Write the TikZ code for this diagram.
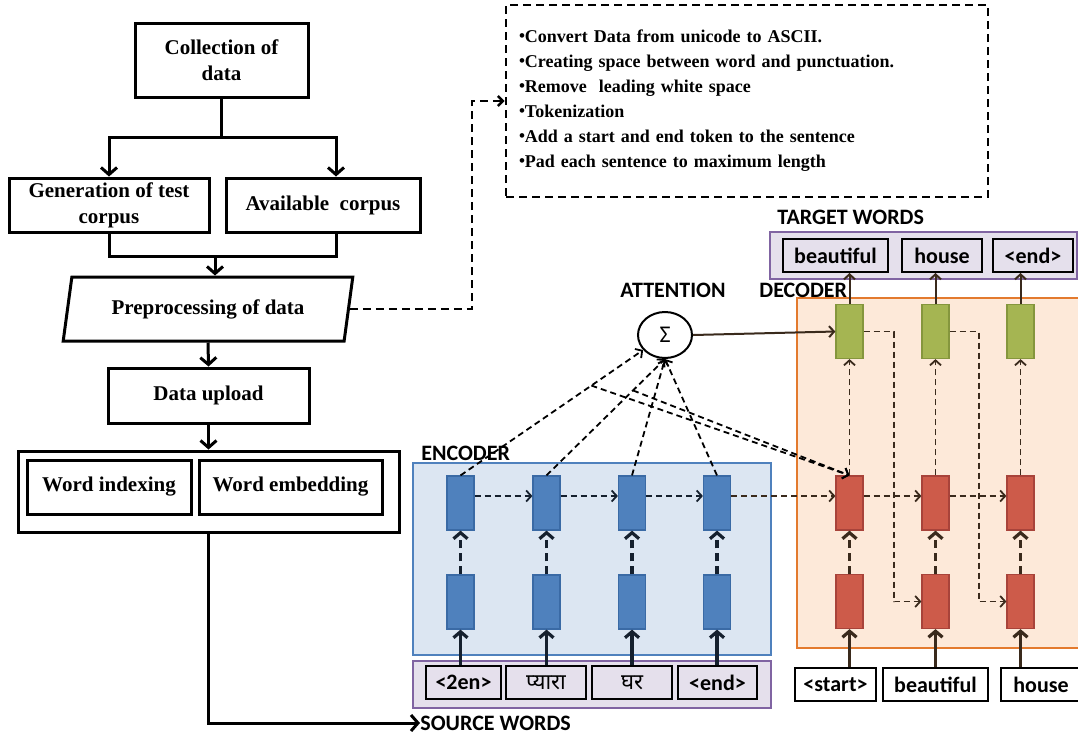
\documentclass[tikz,border=0pt]{standalone}
\usepackage{fontspec}
\usetikzlibrary{arrows.meta,calc,shapes.geometric}
\newfontfamily\timesfont{Liberation Serif}
\newfontfamily\calfont{Carlito}
\newfontfamily\hindifont[Script=Devanagari]{Noto Sans}
\definecolor{encfill}{HTML}{DCE6F2}
\definecolor{encborder}{HTML}{4F81BD}
\definecolor{decfill}{HTML}{FDE9D9}
\definecolor{decborder}{HTML}{E37A2E}
\definecolor{wordsfill}{HTML}{E5E0EC}
\definecolor{wordsborder}{HTML}{8064A2}
\definecolor{cellblue}{HTML}{4F81BD}
\definecolor{cellblueborder}{HTML}{3A6AA5}
\definecolor{cellred}{HTML}{CD5B4A}
\definecolor{cellredborder}{HTML}{A8433A}
\definecolor{cellgreen}{HTML}{A5B552}
\definecolor{cellgreenborder}{HTML}{85963D}
\definecolor{encline}{HTML}{15202E}
\definecolor{decline}{HTML}{3A2A1C}
\newcommand\stepdot{\raisebox{0.15ex}{\fontsize{8.5}{8.5}\selectfont\textbullet}}

\tikzset{
  flowbox/.style={draw, line width=1.5pt, align=center, inner sep=1pt,
    font=\timesfont\bfseries\fontsize{10.5}{13}\selectfont},
  flowline/.style={line width=1.5pt},
  flowarrow/.style={line width=1.5pt, -{Straight Barb[length=3.5pt,width=8pt]}},
  stepsbox/.style={draw, line width=1.3pt, dash pattern=on 4pt off 2.5pt, align=left,
    text width=228pt, inner xsep=6.5pt, minimum height=96pt,
    font=\timesfont\bfseries\fontsize{9}{12.5}\selectfont},
  stepsarrow/.style={line width=1.3pt, dash pattern=on 4pt off 2.5pt,
    -{Straight Barb[length=2.5pt,width=5pt]}},
  nmtlabel/.style={inner sep=0pt, font=\calfont\bfseries\fontsize{11}{13}\selectfont},
  encbox/.style={draw=encborder, fill=encfill, line width=0.8pt},
  decbox/.style={draw=decborder, fill=decfill, line width=0.8pt},
  wordsbox/.style={draw=wordsborder, fill=wordsfill, line width=0.8pt},
  tokbox/.style={draw, line width=1pt, minimum height=16.5pt, inner sep=0pt,
    font=\calfont\bfseries\fontsize{11}{13}\selectfont},
  cell/.style={minimum width=13.5pt, minimum height=27pt, inner sep=0pt, line width=0.6pt},
  bluecell/.style={cell, fill=cellblue, draw=cellblueborder},
  redcell/.style={cell, fill=cellred, draw=cellredborder},
  greencell/.style={cell, fill=cellgreen, draw=cellgreenborder},
  attnode/.style={draw, ellipse, line width=1pt, minimum width=27pt, minimum height=23pt,
    inner sep=0pt, fill=white, font=\calfont\fontsize{12}{14}\selectfont},
  attline/.style={line width=0.9pt, dash pattern=on 3pt off 2pt,
    -{Straight Barb[length=2.5pt,width=5.5pt]}},
  feedline/.style={line width=1.6pt, dash pattern=on 4pt off 2.5pt,
    -{Straight Barb[length=3pt,width=7pt]}},
  inputline/.style={line width=1.6pt, -{Straight Barb[length=3pt,width=7pt]}},
  outputline/.style={line width=1pt, -{Straight Barb[length=2.5pt,width=5.5pt]}}
}

\begin{document}
\begin{tikzpicture}[x=0.5pt,y=-0.5pt]
  %%%%% START %%%%%
  \useasboundingbox (0,0) rectangle (1078,735);

  % left flow chart
  \node[flowbox, minimum width=86.5pt, minimum height=37pt] (coll) at (221.5,60) {Collection of\\data};
  \node[flowbox, minimum width=100pt, minimum height=27pt] (gen) at (109,205) {Generation of test\\corpus};
  \node[flowbox, minimum width=97pt, minimum height=27pt] (avail) at (323,205) {Available\ \ corpus};
  \node[flowbox, trapezium, trapezium left angle=75, trapezium right angle=105,
    trapezium stretches=true, minimum width=145pt, minimum height=32pt] (prep) at (208,309) {Preprocessing of data};
  \node[flowbox, minimum width=100.5pt, minimum height=27.5pt] (up) at (208.5,395.5) {Data upload};
  \node[flowbox, minimum width=190.5pt, minimum height=40.5pt] (wordbox) at (208.5,491.5) {};
  \node[flowbox, minimum width=82pt, minimum height=27pt] (widx) at (109,487) {Word indexing};
  \node[flowbox, minimum width=91.5pt, minimum height=27pt] (wemb) at (290.5,487) {Word embedding};

  \draw[flowline] (coll.south) -- ++(0,39) coordinate (split);
  \draw[flowarrow] (split) -| (gen.north);
  \draw[flowarrow] (split) -| ([xshift=6.5pt]avail.north);
  \coordinate (merge) at (215,256);
  \draw[flowline] (gen.south) |- ([xshift=6.5pt]avail.south |- merge) -- ([xshift=6.5pt]avail.south);
  \draw[flowarrow] (merge) -- (merge |- prep.north);
  \draw[flowarrow] (prep.south) -- (up.north);
  \draw[flowarrow] (up.south) -- (wordbox.north);

  % preprocessing steps
  \node[stepsbox] (steps) at (747,101) {\stepdot Convert Data from unicode to ASCII.\\
    \stepdot Creating space between word and punctuation.\\
    \stepdot Remove\ \ leading white space\\
    \stepdot Tokenization\\
    \stepdot Add a start and end token to the sentence\\
    \stepdot Pad each sentence to maximum length};
  \draw[stepsarrow] (prep.east) -- ++(122,0) |- (steps.west);

  % encoder
  \node[encbox, minimum width=179pt, minimum height=96pt] (enc) at (592,559) {};
  \node[nmtlabel, anchor=west] (enclabel) at (421,453) {ENCODER};
  \node[wordsbox, minimum width=179pt, minimum height=23.5pt] (srcbox) at (592,684.5) {};
  \node[nmtlabel, anchor=west] (srclabel) at (420,723) {SOURCE WORDS};
  \draw[flowarrow] (wordbox.south) |- (srclabel.west);

  \node[bluecell] (e1) at (460.5,503) {};
  \node[bluecell] (e2) at (546.5,503) {};
  \node[bluecell] (e3) at (632,503) {};
  \node[bluecell] (e4) at (717,503) {};
  \node[bluecell] (f1) at (460.5,602) {};
  \node[bluecell] (f2) at (546.5,602) {};
  \node[bluecell] (f3) at (632,602) {};
  \node[bluecell] (f4) at (717,602) {};
  \node[tokbox, minimum width=37.5pt] (s1) at (463.5,682.5) {<2en>};
  \node[tokbox, minimum width=40pt] (s2) at (546,682.5) {\hindifont\mdseries प्यारा};
  \node[tokbox, minimum width=40pt] (s3) at (632,682.5) {\hindifont\mdseries घर};
  \node[tokbox, minimum width=39.5pt] (s4) at (717.5,682.5) {<end>};

  % decoder
  \node[decbox, minimum width=146.5pt, minimum height=175pt] (dec) at (943.5,473) {};
  \node[nmtlabel, anchor=west] (declabel) at (759,290) {DECODER};
  \node[wordsbox, minimum width=153.5pt, minimum height=23.5pt] (tgtbox) at (923.5,255.5) {};
  \node[nmtlabel, anchor=west] (tgtlabel) at (777,217) {TARGET WORDS};
  \node[tokbox, minimum width=52.5pt] (t1) at (835.5,255.5) {beautiful};
  \node[tokbox, minimum width=40pt] (t2) at (942,255.5) {house};
  \node[tokbox, minimum width=40pt] (t3) at (1033,255.5) {<end>};

  \node[greencell] (g1) at (849.5,331.5) {};
  \node[greencell] (g2) at (935.5,331.5) {};
  \node[greencell] (g3) at (1020.5,331.5) {};
  \node[redcell] (r1) at (849.5,503) {};
  \node[redcell] (r2) at (935.5,503) {};
  \node[redcell] (r3) at (1020.5,503) {};
  \node[redcell] (q1) at (849.5,601.5) {};
  \node[redcell] (q2) at (935.5,601.5) {};
  \node[redcell] (q3) at (1020.5,601.5) {};
  \node[tokbox, fill=white, minimum width=40.5pt] (in1) at (835.5,684.5) {<start>};
  \node[tokbox, fill=white, minimum width=52.5pt] (in2) at (935.5,684.5) {beautiful};
  \node[tokbox, fill=white, minimum width=40pt] (in3) at (1041,684.5) {house};

  % attention
  \node[attnode] (att) at (665,335) {Σ};
  \node[nmtlabel] (attlabel) at (673,290) {ATTENTION};

  % encoder connections
  \draw[inputline, encline] (f1.south |- s1.north) -- (f1.south);
  \draw[inputline, encline] (f2.south |- s2.north) -- (f2.south);
  \draw[inputline, encline] (f3.south |- s3.north) -- (f3.south);
  \draw[inputline, encline] (f4.south |- s4.north) -- (f4.south);
  \draw[feedline, encline] (f1.north) -- (e1.south);
  \draw[feedline, encline] (f2.north) -- (e2.south);
  \draw[feedline, encline] (f3.north) -- (e3.south);
  \draw[feedline, encline] (f4.north) -- (e4.south);
  \draw[attline, encline] ([yshift=3.5pt]e1.east) -- ([yshift=3.5pt]e2.west);
  \draw[attline, encline] ([yshift=3.5pt]e2.east) -- ([yshift=3.5pt]e3.west);
  \draw[attline, encline] ([yshift=3.5pt]e3.east) -- ([yshift=3.5pt]e4.west);
  \draw[attline, decline] ([yshift=3.5pt]e4.east) -- ([yshift=3.5pt]r1.west);

  % attention connections
  \draw[attline] (e1.north) -- (att);
  \draw[attline] (e2.north) -- (att.south);
  \draw[attline] (e3.north) -- (att.south);
  \draw[attline] (e4.north) -- (att.south);
  \coordinate (a1) at ($(e1.north)!0.64!(att)$);
  \coordinate (a2) at ($(e2.north)!0.73!(att.south)$);
  \draw[attline] (a1) -- (r1.north);
  \draw[attline] (a2) -- (r1.north);
  \draw[outputline, decline] (att.east) -- (g1.west);

  % decoder connections
  \draw[inputline, decline] (q1.south |- in1.north) -- (q1.south);
  \draw[inputline, decline] (q2.south |- in2.north) -- (q2.south);
  \draw[inputline, decline] (q3.south |- in3.north) -- (q3.south);
  \draw[feedline, decline] (q1.north) -- (r1.south);
  \draw[feedline, decline] (q2.north) -- (r2.south);
  \draw[feedline, decline] (q3.north) -- (r3.south);
  \draw[attline, decline] (r1.north) -- (g1.south);
  \draw[attline, decline] (r2.north) -- (g2.south);
  \draw[attline, decline] (r3.north) -- (g3.south);
  \draw[attline, decline] ([yshift=3.5pt]r1.east) -- ([yshift=3.5pt]r2.west);
  \draw[attline, decline] ([yshift=3.5pt]r2.east) -- ([yshift=3.5pt]r3.west);
  \draw[attline, decline] (g1.east) -- ++(30,0) |- (q2.west);
  \draw[attline, decline] (g2.east) -- ++(29,0) |- (q3.west);
  \draw[outputline, decline] (g1.north) -- (g1.north |- t1.south);
  \draw[outputline, decline] (g2.north) -- (g2.north |- t2.south);
  \draw[outputline, decline] (g3.north) -- (g3.north |- t3.south);

  %%%%% END %%%%%
\end{tikzpicture}
\end{document}
